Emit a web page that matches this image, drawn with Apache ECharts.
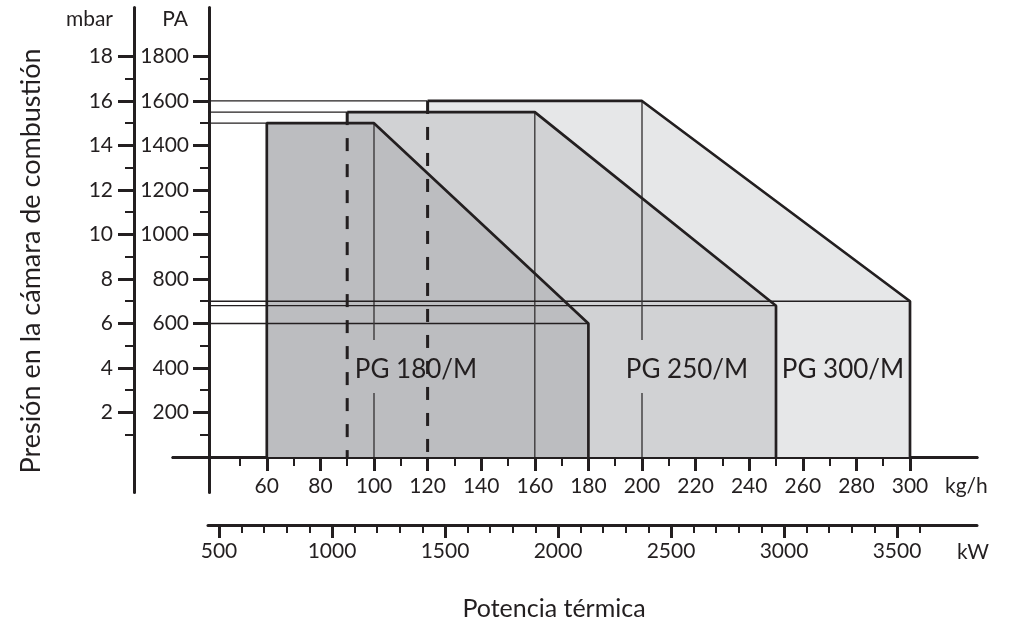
<!DOCTYPE html>
<html><head><meta charset="utf-8">
<script src="https://cdn.jsdelivr.net/npm/echarts@6/dist/echarts.min.js"></script>
<style>html,body{margin:0;padding:0;background:#fff}#c{width:1013px;height:625px}</style>
</head><body><div id="c"></div>
<script>
// ---- data ----
const models = ['PG 180/M', 'PG 250/M', 'PG 300/M'];
const minFlow = [60, 90, 120];          // kg/h, left edge
const kneeFlow = [100, 160, 200];       // kg/h, end of max pressure plateau
const maxFlow = [180, 250, 300];        // kg/h, right edge
const maxPressure = [1500, 1550, 1600]; // Pa
const endPressure = [600, 680, 700];    // Pa at max flow

const kgTicks = [60, 80, 100, 120, 140, 160, 180, 200, 220, 240, 260, 280, 300];
const kgMinorTicks = [50, 70, 90, 110, 130, 150, 170, 190, 210, 230, 250, 270, 290];
const paTicks = [200, 400, 600, 800, 1000, 1200, 1400, 1600, 1800];
const paMinorTicks = [100, 300, 500, 700, 900, 1100, 1300, 1500, 1700];
const mbarTicks = [2, 4, 6, 8, 10, 12, 14, 16, 18];
const mbarMinorTicks = [1, 3, 5, 7, 9, 11, 13, 15, 17];
const kwTicks = [500, 1000, 1500, 2000, 2500, 3000, 3500];
const kwMinorTicks = [600, 700, 800, 900, 1100, 1200, 1300, 1400, 1600, 1700, 1800, 1900,
  2100, 2200, 2300, 2400, 2600, 2700, 2800, 2900, 3100, 3200, 3300, 3400, 3600];

// ---- style / layout ----
const INK = '#231f20';
const FONT = 'Lato';
const FILLS = ['#bcbdc0', '#d1d2d4', '#e6e7e8'];
const PA_AXIS_KG = 38.4;          // where the Pa axis crosses the kg/h scale
const LABEL_GAP = [288, 526];     // Pa range left free around the model labels
const LABEL_KG = [116, 217, 275]; // label centre positions on kg/h scale

const series = [];
[2, 1, 0].forEach(i => {
  series.push({
    type: 'line', xAxisIndex: 0, yAxisIndex: 0, symbol: 'none', silent: true, z: 1,
    data: [[minFlow[i], maxPressure[i]], [kneeFlow[i], maxPressure[i]], [maxFlow[i], endPressure[i]]],
    lineStyle: { width: 0, opacity: 0 },
    areaStyle: { color: FILLS[i], opacity: 1 }
  });
});
function seg(data, width, color, type, z) {
  series.push({
    type: 'line', xAxisIndex: 0, yAxisIndex: 0, symbol: 'none', silent: true, z: z || 3,
    data: data, lineStyle: { width: width, color: color, type: type || 'solid', cap: 'butt' }
  });
}
// thin reference lines
for (let i = 0; i < 3; i++) {
  seg([[PA_AXIS_KG, maxPressure[i]], [minFlow[i], maxPressure[i]]], 1.3, INK);
  seg([[PA_AXIS_KG, endPressure[i]], [maxFlow[i], endPressure[i]]], 1.3, INK);
  const k = kneeFlow[i];
  const gap = LABEL_KG.some(l => Math.abs(l - k) < 25);
  if (gap) {
    seg([[k, maxPressure[i]], [k, LABEL_GAP[1]]], 1.4, '#3c3a3b');
    seg([[k, LABEL_GAP[0]], [k, 0]], 1.4, '#3c3a3b');
  } else {
    seg([[k, maxPressure[i]], [k, 0]], 1.4, '#3c3a3b');
  }
}
// outlines
for (let i = 0; i < 3; i++) {
  const pts = [[minFlow[i], maxPressure[i]], [kneeFlow[i], maxPressure[i]], [maxFlow[i], endPressure[i]], [maxFlow[i], 0]];
  if (i === 0) pts.unshift([minFlow[i], 0]);
  seg(pts, 2.7, INK, 'solid', 4);
  if (i > 0) seg([[minFlow[i], maxPressure[i]], [minFlow[i], 0]], 3, INK, [13, 13], 4);
}

function valueAxisBase(extra) {
  return Object.assign({
    type: 'value', splitLine: { show: false },
    axisLine: { show: false },
    axisTick: { show: false },
    axisLabel: { show: false }
  }, extra);
}
const plain = v => String(v);
const tickLabel = { color: INK, fontFamily: FONT, fontSize: 21, formatter: plain };

const option = {
  animation: false,
  backgroundColor: '#fff',
  grid: [
    { left: 173, right: 36, top: 7.5, bottom: 132.4, outerBoundsMode: 'none', containLabel: false },
    { left: 208, right: 36, top: 524, height: 1, outerBoundsMode: 'none', containLabel: false }
  ],
  xAxis: [
    valueAxisBase({ gridIndex: 0, position: 'bottom', min: 25, max: 325,
      axisLine: { show: true, onZero: true, onZeroAxisIndex: 0, lineStyle: { color: INK, width: 3 } },
      axisTick: { show: true, customValues: kgTicks, length: 14, lineStyle: { color: INK, width: 3 } },
      axisLabel: Object.assign({ show: true, customValues: kgTicks, margin: -17 }, tickLabel) }),
    valueAxisBase({ gridIndex: 0, position: 'bottom', min: 25, max: 325,
      axisLine: { show: true, onZero: true, onZeroAxisIndex: 0, lineStyle: { color: INK, width: 3 } },
      axisTick: { show: true, customValues: kgMinorTicks, length: 9, lineStyle: { color: INK, width: 2 } } }),
    valueAxisBase({ gridIndex: 1, position: 'bottom', min: 451.3, max: 3854,
      axisLine: { show: true, onZero: false, lineStyle: { color: INK, width: 3 } },
      axisTick: { show: true, customValues: kwTicks, length: 13, lineStyle: { color: INK, width: 3 } },
      axisLabel: Object.assign({ show: true, customValues: kwTicks, margin: 16 }, tickLabel) }),
    valueAxisBase({ gridIndex: 1, position: 'bottom', min: 451.3, max: 3854,
      axisLine: { show: false, onZero: false },
      axisTick: { show: true, customValues: kwMinorTicks, length: 8, lineStyle: { color: INK, width: 2 } } })
  ],
  yAxis: [
    valueAxisBase({ gridIndex: 0, min: -160, max: 2020, position: 'left', offset: -36,
      axisLine: { show: true, onZero: false, lineStyle: { color: INK, width: 3 } },
      axisTick: { show: true, customValues: paTicks, length: 16, lineStyle: { color: INK, width: 3 } },
      axisLabel: Object.assign({ show: true, customValues: paTicks, margin: 20 }, tickLabel) }),
    valueAxisBase({ gridIndex: 0, min: -160, max: 2020, position: 'left', offset: -36,
      axisLine: { show: false, onZero: false },
      axisTick: { show: true, customValues: paMinorTicks, length: 9, lineStyle: { color: INK, width: 2 } } }),
    valueAxisBase({ gridIndex: 0, min: -1.6, max: 20.2, position: 'left', offset: 39,
      axisLine: { show: true, onZero: false, lineStyle: { color: INK, width: 3 } },
      axisTick: { show: true, customValues: mbarTicks, length: 16, lineStyle: { color: INK, width: 3 } },
      axisLabel: Object.assign({ show: true, customValues: mbarTicks, margin: 21 }, tickLabel) }),
    valueAxisBase({ gridIndex: 0, min: -1.6, max: 20.2, position: 'left', offset: 39,
      axisLine: { show: false, onZero: false },
      axisTick: { show: true, customValues: mbarMinorTicks, length: 9, lineStyle: { color: INK, width: 2 } } }),
    valueAxisBase({ gridIndex: 1, min: 0, max: 1, show: false })
  ],
  graphic: [
    { type: 'text', x: 416, y: 370, z: 10, style: { text: models[0], fill: INK, fontFamily: FONT, fontSize: 26, align: 'center', verticalAlign: 'middle' } },
    { type: 'text', x: 687, y: 370, z: 10, style: { text: models[1], fill: INK, fontFamily: FONT, fontSize: 26, align: 'center', verticalAlign: 'middle' } },
    { type: 'text', x: 843, y: 370, z: 10, style: { text: models[2], fill: INK, fontFamily: FONT, fontSize: 26, align: 'center', verticalAlign: 'middle' } },
    { type: 'text', x: 113, y: 19, style: { text: 'mbar', fill: INK, fontFamily: FONT, fontSize: 21, align: 'right', verticalAlign: 'middle' } },
    { type: 'text', x: 188, y: 19, style: { text: 'PA', fill: INK, fontFamily: FONT, fontSize: 21, align: 'right', verticalAlign: 'middle' } },
    { type: 'text', x: 945, y: 486, style: { text: 'kg/h', fill: INK, fontFamily: FONT, fontSize: 21, align: 'left', verticalAlign: 'middle' } },
    { type: 'text', x: 957, y: 552, style: { text: 'kW', fill: INK, fontFamily: FONT, fontSize: 21, align: 'left', verticalAlign: 'middle' } },
    { type: 'text', x: 554, y: 609, style: { text: 'Potencia térmica', fill: INK, fontFamily: FONT, fontSize: 25, align: 'center', verticalAlign: 'middle' } },
    { type: 'text', x: 31, y: 261, rotation: Math.PI / 2, style: { text: 'Presión en la cámara de combustión', fill: INK, fontFamily: FONT, fontSize: 27, align: 'center', verticalAlign: 'middle' } }
  ],
  series: series
};
const chart = echarts.init(document.getElementById('c'), null, { renderer: 'canvas' });
chart.setOption(option);
</script>
</body></html>
